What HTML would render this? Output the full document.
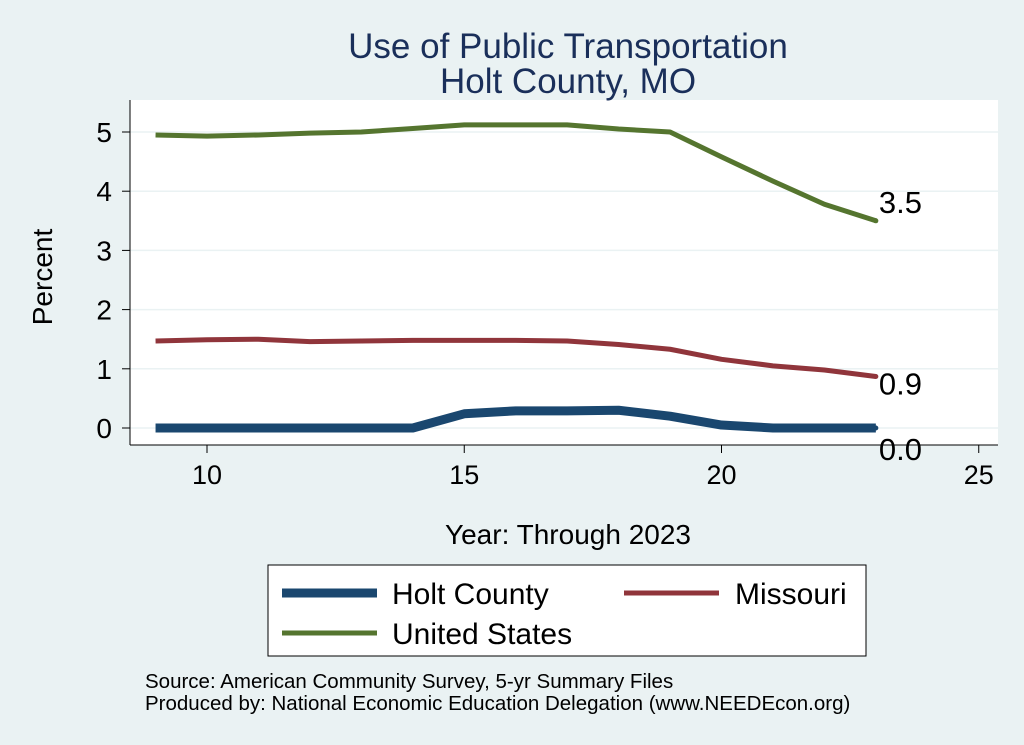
<!DOCTYPE html>
<html><head><meta charset="utf-8"><style>
body{margin:0;background:#eaf2f3;font-family:"Liberation Sans",sans-serif}
svg{display:block}
</style></head><body>
<svg width="1024" height="745">
<rect x="0" y="0" width="1024" height="745" fill="#eaf2f3"/>
<rect x="130" y="100" width="868" height="345" fill="#ffffff"/>
<text x="568" y="58" font-size="35" fill="#1a2f5a" text-anchor="middle">Use of Public Transportation</text>
<text x="568" y="93" font-size="35" fill="#1a2f5a" text-anchor="middle">Holt County, MO</text>
<g id="grid"></g>
<g id="yaxis"></g>
<g id="xaxis"></g>
<g id="series"></g>
<text x="52" y="277" font-size="28" text-anchor="middle" transform="rotate(-90 52 277)">Percent</text>
<text x="568" y="544" font-size="28" text-anchor="middle">Year: Through 2023</text>
<g>
<rect x="268" y="565" width="598" height="91" fill="#fff" stroke="#000" stroke-width="1"/>
<g><line x1="282" y1="593" x2="377" y2="593" stroke="#1a476f" stroke-width="9"/><text x="392" y="604" font-size="30">Holt County</text></g>
<g><line x1="624" y1="593" x2="719" y2="593" stroke="#90353b" stroke-width="5"/><text x="735" y="604" font-size="30">Missouri</text></g>
<g><line x1="282" y1="633" x2="377" y2="633" stroke="#55752f" stroke-width="5"/><text x="392" y="644" font-size="30">United States</text></g>
</g>
<text x="145" y="688" font-size="20.5">Source: American Community Survey, 5-yr Summary Files</text>
<text x="145" y="710" font-size="20.5">Produced by: National Economic Education Delegation (www.NEEDEcon.org)</text>
</svg>
<script>
const years=[9,10,11,12,13,14,15,16,17,18,19,20,21,22,23];
const holt=[0,0,0,0,0,0,0.24,0.29,0.29,0.3,0.2,0.05,0,0,0];
const missouri=[1.47,1.49,1.5,1.46,1.47,1.48,1.48,1.48,1.47,1.41,1.33,1.16,1.05,0.98,0.87];
const us=[4.95,4.93,4.95,4.98,5.0,5.06,5.12,5.12,5.12,5.05,5.0,4.58,4.17,3.78,3.5];
const yTicks=[0,1,2,3,4,5];
const xTicks=[10,15,20,25];
const NS="http://www.w3.org/2000/svg";
const X=v=>207+(v-10)*51.45;
const Y=v=>428-v*59.2;
function mk(tag,attrs,parent){const e=document.createElementNS(NS,tag);for(const k in attrs)e.setAttribute(k,attrs[k]);parent.appendChild(e);return e;}
const grid=document.getElementById('grid'),ya=document.getElementById('yaxis'),xa=document.getElementById('xaxis'),ser=document.getElementById('series');
yTicks.forEach(t=>{
 const g=mk('line',{x1:130,x2:998,y1:Y(t),y2:Y(t),stroke:'#eaf2f3','stroke-width':1.5},grid);
 
 
 const tk=mk('line',{x1:122,x2:130,y1:Y(t),y2:Y(t),stroke:'#000'},ya);
 
 
 const tx=mk('text',{x:112,y:Y(t)+10,'font-size':28,'text-anchor':'end'},ya);tx.textContent=t;
 
 
});
const ax=mk('line',{x1:130,x2:130,y1:100,y2:445,stroke:'#000'},ya);


const bx=mk('line',{x1:130,x2:998,y1:445,y2:445,stroke:'#000'},xa);


xTicks.forEach(t=>{
 const tk=mk('line',{x1:X(t),x2:X(t),y1:445,y2:453,stroke:'#000'},xa);
 
 
 const tx=mk('text',{x:X(t),y:484,'font-size':27,'text-anchor':'middle'},xa);tx.textContent=t;
 
 
});
function line(vals,color,w,name){
 const p=mk('polyline',{points:years.map((y,i)=>X(y)+','+Y(vals[i])).join(' '),fill:'none',stroke:color,'stroke-width':w,'stroke-linejoin':'round'},ser);
 
 
 const n=vals.length-1;
 const c=mk('circle',{cx:X(years[n]),cy:Y(vals[n]),r:2.5,fill:color},ser);
 
 
 const t=mk('text',{x:X(years[n])+3,y:Y(vals[n])-8+(name==='holt-line'?40:(name==='missouri-line'?26:0)),'font-size':31},ser);
 t.textContent=vals[n].toFixed(1);
 
 
}
line(us,'#55752f',5,'us-line');
line(missouri,'#90353b',5,'missouri-line');
line(holt,'#1a476f',9,'holt-line');
</script>
</body></html>
